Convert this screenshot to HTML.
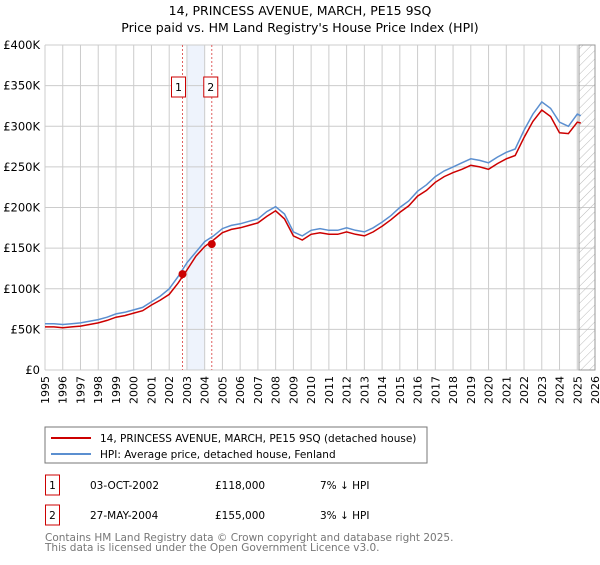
<!DOCTYPE html>
<html><head><meta charset="utf-8"><style>
body{margin:0;background:#fff;font-family:"Liberation Sans","DejaVu Sans",sans-serif;}
svg text{font-family:"DejaVu Sans","Liberation Sans",sans-serif;}
</style></head><body>
<svg id="c" width="600" height="560" xmlns="http://www.w3.org/2000/svg">
<defs><pattern id="hatch" width="6" height="6" patternUnits="userSpaceOnUse" patternTransform="rotate(45)"><line x1="0" y1="0" x2="0" y2="6" stroke="#bbb" stroke-width="1"/></pattern></defs>
<text x="300" y="15" text-anchor="middle" font-size="12.5">14, PRINCESS AVENUE, MARCH, PE15 9SQ</text>
<text x="300" y="32" text-anchor="middle" font-size="12.5">Price paid vs. HM Land Registry's House Price Index (HPI)</text>
<g id="grid"></g><g id="marks"></g>
<rect x="45" y="427" width="382" height="36" fill="#fff" stroke="#777"/>
<line x1="51" y1="438" x2="91" y2="438" stroke="#cc0000" stroke-width="2"/>
<text x="100" y="442" font-size="10.5">14, PRINCESS AVENUE, MARCH, PE15 9SQ (detached house)</text>
<line x1="51" y1="454" x2="91" y2="454" stroke="#5b8fd0" stroke-width="2"/>
<text x="100" y="458" font-size="10.5">HPI: Average price, detached house, Fenland</text>
<g>
<rect x="45.5" y="475" width="14" height="20" fill="#fff" stroke="#cc0000"/><text x="52.5" y="489" text-anchor="middle" font-size="10.5">1</text>
<text x="90" y="489" font-size="10.5">03-OCT-2002</text><text x="215" y="489" font-size="10.5">£118,000</text><text x="320" y="489" font-size="10.5">7% ↓ HPI</text></g>
<g>
<rect x="45.5" y="505" width="14" height="20" fill="#fff" stroke="#cc0000"/><text x="52.5" y="519" text-anchor="middle" font-size="10.5">2</text>
<text x="90" y="519" font-size="10.5">27-MAY-2004</text><text x="215" y="519" font-size="10.5">£155,000</text><text x="320" y="519" font-size="10.5">3% ↓ HPI</text></g>
<text x="45" y="541" font-size="10.5" fill="#777">Contains HM Land Registry data © Crown copyright and database right 2025.</text>
<text x="45" y="551" font-size="10.5" fill="#777">This data is licensed under the Open Government Licence v3.0.</text>
</svg>
<script>
const years=[1995,1995.5,1996,1996.5,1997,1997.5,1998,1998.5,1999,1999.5,2000,2000.5,2001,2001.5,2002,2002.5,2003,2003.5,2004,2004.5,2005,2005.5,2006,2006.5,2007,2007.5,2008,2008.5,2009,2009.5,2010,2010.5,2011,2011.5,2012,2012.5,2013,2013.5,2014,2014.5,2015,2015.5,2016,2016.5,2017,2017.5,2018,2018.5,2019,2019.5,2020,2020.5,2021,2021.5,2022,2022.5,2023,2023.5,2024,2024.5,2025,2025.2];
const hpi=[57,57,56,57,58,60,62,65,69,71,74,77,84,91,100,115,132,145,158,165,174,178,180,183,186,195,201,192,170,165,172,174,172,172,175,172,170,175,182,190,200,208,220,228,238,245,250,255,260,258,255,262,268,272,295,315,330,322,305,300,315,313];
const price=[53,53,52,53,54,56,58,61,65,67,70,73,80,86,93,107,123,140,152,160,169,173,175,178,181,189,196,186,165,160,167,169,167,167,170,167,165,170,177,185,194,202,214,221,231,238,243,247,252,250,247,254,260,264,286,306,320,312,292,291,305,304];
const saleYears=[2002.75,2004.4];
const salePrices=[118,155];
const saleLabels=["1","2"];
const yTicks=[0,50,100,150,200,250,300,350,400];
const yTickLabels=["£0","£50K","£100K","£150K","£200K","£250K","£300K","£350K","£400K"];
const xTicks=[];for(let y=1995;y<=2026;y++)xTicks.push(y);
const L=45,R=595,T=45,B=370,X0=1995,X1=2026;
const sx=v=>L+(v-X0)/(X1-X0)*(R-L), sy=v=>B-v/400*(B-T);
const NS="http://www.w3.org/2000/svg";
function mk(tag,attrs,parent){const e=document.createElementNS(NS,tag);for(const k in attrs)e.setAttribute(k,attrs[k]);parent.appendChild(e);return e;}
const g=document.getElementById('grid'),m=document.getElementById('marks');
let r=mk('rect',{x:sx(2003),y:T,width:sx(2004)-sx(2003),height:B-T,fill:'#eef3fc'},g);


xTicks.forEach(y=>{let l=mk('line',{x1:sx(y),x2:sx(y),y1:T,y2:B,stroke:'#ccc'},g);


let t=mk('text',{x:0,y:0,'font-size':11,'text-anchor':'end',transform:`translate(${sx(y)+4},${B+6}) rotate(-90)`},g);t.textContent=y;

});
yTicks.forEach((v,i)=>{let l=mk('line',{x1:L,x2:R,y1:sy(v),y2:sy(v),stroke:'#ccc'},g);


let t=mk('text',{x:L-5,y:sy(v)+4,'font-size':11.5,'text-anchor':'end'},g);t.textContent=yTickLabels[i];

});
let h=mk('rect',{x:sx(2025.1),y:T,width:R-sx(2025.1),height:B-T,fill:'url(#hatch)',stroke:'#999'},g);


saleYears.forEach((y,i)=>{let l=mk('line',{x1:sx(y),x2:sx(y),y1:T,y2:B,stroke:'#e06060','stroke-dasharray':'2,2'},m);


let bx=mk('rect',{x:sx(y)-11-(i==0?0:-3),y:77,width:14,height:20,fill:'#fff',stroke:'#cc0000'},m);


let t=mk('text',{x:sx(y)-4-(i==0?0:-3),y:91,'font-size':11,'text-anchor':'middle'},m);t.textContent=saleLabels[i];

});
const path=a=>a.map((v,i)=>(i?'L':'M')+sx(years[i]).toFixed(1)+','+sy(v).toFixed(1)).join('');
let p1=mk('path',{d:path(hpi),fill:'none',stroke:'#5b8fd0','stroke-width':1.5},m);


let p2=mk('path',{d:path(price),fill:'none',stroke:'#cc0000','stroke-width':1.5},m);


saleYears.forEach((y,i)=>{let c=mk('circle',{cx:sx(y),cy:sy(salePrices[i]),r:4,fill:'#cc0000'},m);

});
</script>
</body></html>
